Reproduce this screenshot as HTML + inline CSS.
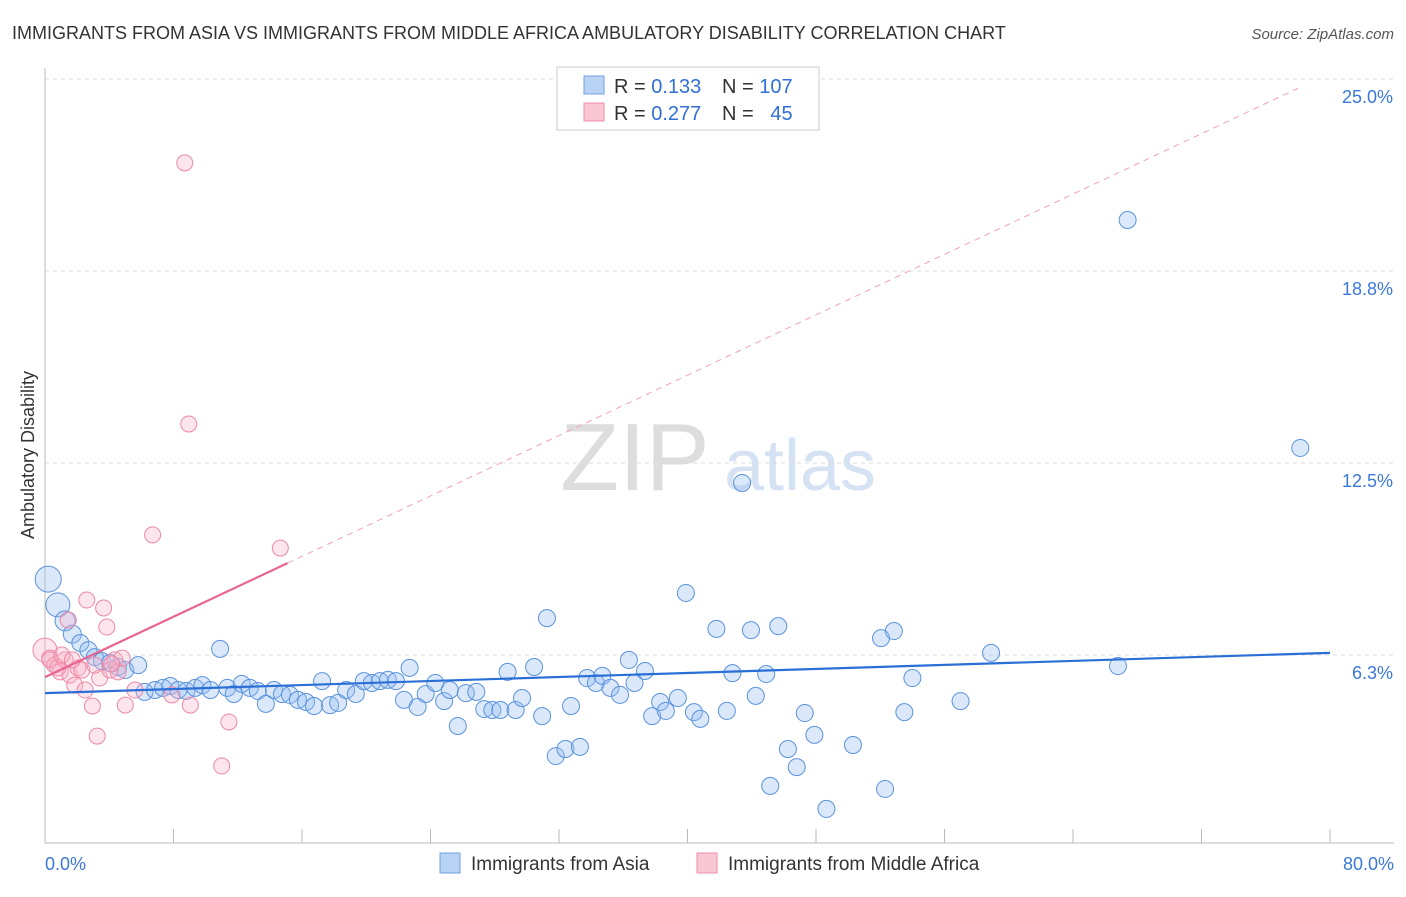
<!DOCTYPE html>
<html><head><meta charset="utf-8"><style>
body{margin:0;background:#fff;font-family:"Liberation Sans",sans-serif;}
svg text{font-family:"Liberation Sans",sans-serif;}
</style></head><body>
<svg id="chart" width="1406" height="892" xmlns="http://www.w3.org/2000/svg">
<text x="12" y="39" font-size="18" fill="#333">IMMIGRANTS FROM ASIA VS IMMIGRANTS FROM MIDDLE AFRICA AMBULATORY DISABILITY CORRELATION CHART</text>
<text x="1394" y="39" font-size="15" fill="#555" text-anchor="end" font-style="italic">Source: ZipAtlas.com</text>
<text x="635" y="490" font-size="96" fill="#ddd" font-family="Liberation Serif" text-anchor="middle">ZIP</text>
<text x="800" y="490" font-size="72" fill="#d4e2f4" text-anchor="middle">atlas</text>
<g id="grid"></g><g id="axes"></g><g id="pts"></g><g id="trend"></g>
<text transform="translate(34,455) rotate(-90)" font-size="18" fill="#333" text-anchor="middle">Ambulatory Disability</text>
<g>
<rect x="557" y="67" width="262" height="63" fill="#fff" stroke="#ccc"/>
<rect x="584" y="76" width="20" height="18" fill="#b9d3f5" stroke="#6fa0e0"/>
<rect x="584" y="103" width="20" height="18" fill="#f9c6d4" stroke="#ee8eaa"/>
<text x="614" y="93" font-size="20" fill="#333">R = <tspan fill="#2f6fd6">0.133</tspan></text>
<text x="722" y="93" font-size="20" fill="#333">N = <tspan fill="#2f6fd6">107</tspan></text>
<text x="614" y="120" font-size="20" fill="#333">R = <tspan fill="#2f6fd6">0.277</tspan></text>
<text x="722" y="120" font-size="20" fill="#333">N = <tspan fill="#2f6fd6">&#160; 45</tspan></text>
</g>
<g>
<rect x="440" y="853" width="20" height="20" fill="#b9d3f5" stroke="#6fa0e0"/>
<text x="471" y="870" font-size="19" fill="#333">Immigrants from Asia</text>
<rect x="697" y="853" width="20" height="20" fill="#f9c6d4" stroke="#ee8eaa"/>
<text x="728" y="870" font-size="19" fill="#333">Immigrants from Middle Africa</text>
</g>
</svg>
<script>
const yTicks=[25,18.75,12.5,6.25];
const yTickLabels=["25.0%","18.8%","12.5%","6.3%"];
const xEndLabels=["0.0%","80.0%"];
const asiaX=[0.2,0.8,1.25,1.7,2.2,2.7,3.1,3.55,4.05,4.55,5.0,5.8,6.2,6.85,7.35,7.8,8.3,8.8,9.35,9.8,10.3,10.9,11.35,11.75,12.25,12.75,13.25,13.75,14.25,14.75,15.25,15.75,16.25,16.75,17.25,17.75,18.25,18.75,19.35,19.85,20.35,20.85,21.35,21.85,22.35,22.7,23.2,23.7,24.3,24.85,25.2,25.7,26.2,26.85,27.35,27.85,28.35,28.8,29.3,29.7,30.45,30.95,31.25,31.8,32.4,32.75,33.3,33.75,34.3,34.7,35.2,35.8,36.35,36.7,37.35,37.8,38.3,38.65,39.4,39.9,40.4,40.8,41.8,42.45,42.8,43.4,43.95,44.25,44.9,45.15,45.65,46.25,46.8,47.3,47.9,48.65,50.3,52.05,52.3,52.85,53.5,54.0,57.0,58.9,66.8,67.4,78.15];
const asiaY=[8.72,7.88,7.36,6.93,6.64,6.41,6.18,6.05,5.99,5.86,5.76,5.92,5.05,5.11,5.18,5.24,5.11,5.08,5.18,5.27,5.11,6.45,5.18,4.98,5.31,5.18,5.08,4.66,5.11,4.98,4.95,4.79,4.72,4.59,5.4,4.62,4.69,5.11,4.98,5.4,5.34,5.4,5.44,5.4,4.79,5.83,4.56,4.98,5.34,4.75,5.11,3.94,5.01,5.05,4.49,4.46,4.46,5.7,4.46,4.85,5.86,4.26,7.45,2.96,3.19,4.59,3.26,5.5,5.34,5.57,5.18,4.95,6.09,5.34,5.73,4.26,4.72,4.43,4.85,8.27,4.39,4.17,7.1,4.43,5.66,11.85,7.06,4.92,5.63,1.99,7.19,3.19,2.6,4.36,3.65,1.24,3.32,6.8,1.89,7.03,4.39,5.5,4.75,6.32,5.89,20.41,12.99];
const afrX=[0,0.3,0.6,0.95,1.25,1.45,1.55,1.85,2.05,2.3,2.5,2.6,2.95,3.25,3.4,3.65,3.85,4.05,4.35,4.55,4.8,5.0,5.6,6.7,7.9,8.7,8.95,9.05,11.45,11.0,14.65,0.3,0.8,1.05,1.7,3.1,4.15];
const afrY=[6.41,6.15,5.92,5.7,6.09,7.39,5.6,5.27,5.83,5.76,5.11,8.04,4.59,3.61,5.5,7.78,7.16,5.76,6.09,5.7,6.15,4.62,5.11,10.16,4.95,22.27,13.77,4.62,4.07,2.64,9.73,6.09,5.83,6.25,6.09,5.92,5.96];
const asiaTrend=[5.01,6.32];
const afrTrend=[5.53,0.2457];
const NS="http://www.w3.org/2000/svg";
const X=v=>45+v*(1285/80);
const Y=v=>847-v*30.72;
function mk(tag,attrs,parent){const e=document.createElementNS(NS,tag);for(const k in attrs)e.setAttribute(k,attrs[k]);document.getElementById(parent).appendChild(e);return e;}
yTicks.forEach((t,i)=>{
 const l=mk('line',{x1:45,x2:1394,y1:Y(t),y2:Y(t),stroke:'#ddd','stroke-dasharray':'4,4'},'grid');
 
 
 const tx=mk('text',{x:1393,y:Y(t)+24,'font-size':18,fill:'#3b78d8','text-anchor':'end'},'grid');
 tx.textContent=yTickLabels[i];
 
 
});
const ax=mk('line',{x1:45,x2:45,y1:68,y2:843,stroke:'#bbb'},'axes');


const bx=mk('line',{x1:45,x2:1394,y1:843,y2:843,stroke:'#bbb'},'axes');


for(let i=0;i<=10;i++){const t=mk('line',{x1:X(i*8),x2:X(i*8),y1:829,y2:843,stroke:'#bbb'},'axes');
 
 }
[[0,'start',45],[80,'end',1394]].forEach((d,i)=>{const t=mk('text',{x:d[2],y:870,'font-size':18,fill:'#3b78d8','text-anchor':d[1]},'axes');t.textContent=xEndLabels[i];
 
 });
asiaX.forEach((x,i)=>{const r=i==0?13:i==1?12:i==2?10:i==3?9:8.5;
 const c=mk('circle',{cx:X(x),cy:Y(asiaY[i]),r:r,fill:'rgba(150,190,240,0.35)',stroke:'#5b93dc','stroke-width':1},'pts');
 
 });
afrX.forEach((x,i)=>{const r=i==0?12:8;
 const c=mk('circle',{cx:X(x),cy:Y(afrY[i]),r:r,fill:'rgba(248,180,200,0.35)',stroke:'#ec88a6','stroke-width':1},'pts');
 
 });
const bl=mk('line',{x1:X(0),y1:Y(asiaTrend[0]),x2:X(80),y2:Y(asiaTrend[1]),stroke:'#2a6fd6','stroke-width':2.2},'trend');


const pd=mk('line',{x1:X(15.1),y1:Y(afrTrend[0]+afrTrend[1]*15.1),x2:X(78),y2:Y(afrTrend[0]+afrTrend[1]*78),stroke:'#f0a0b8','stroke-width':1,'stroke-dasharray':'6,5'},'trend');


const pl=mk('line',{x1:X(0),y1:Y(afrTrend[0]),x2:X(15.1),y2:Y(afrTrend[0]+afrTrend[1]*15.1),stroke:'#e86592','stroke-width':2.2},'trend');


</script>
</body></html>
